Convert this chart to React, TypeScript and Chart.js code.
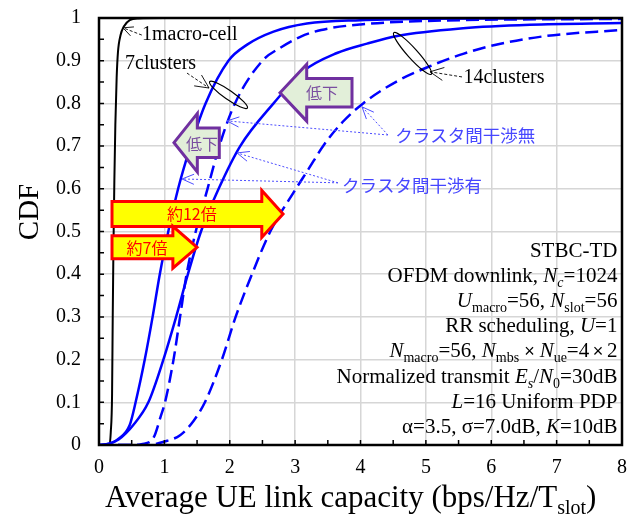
import React, { useEffect, useRef } from 'react';
import { Chart, registerables } from 'chart.js';

Chart.register(...registerables);

// ---- tick values ----
const xTickValues = [0, 1, 2, 3, 4, 5, 6, 7, 8];
const yTickValues = [0, 0.1, 0.2, 0.3, 0.4, 0.5, 0.6, 0.7, 0.8, 0.9, 1];

// ---- 1 macro-cell ----
const macroX = [0, 0.16, 0.18, 0.2, 0.21, 0.22, 0.235, 0.25, 0.27, 0.29, 0.33, 0.38, 0.47, 0.6, 1, 8];
const macroY = [0, 0, 0.03, 0.12, 0.3, 0.45, 0.62, 0.75, 0.86, 0.92, 0.96, 0.98, 0.995, 0.999, 1, 1];

// ---- 7 clusters, with inter-cluster interference (solid) ----
const c7WithX = [0, 0.1, 0.3, 0.47, 0.56, 0.7, 0.82, 0.93, 1.06, 1.21, 1.4, 1.63, 1.98, 2.26, 2.67, 3.18, 4, 5, 8];
const c7WithY = [0, 0.001, 0.015, 0.047, 0.1, 0.2, 0.3, 0.4, 0.5, 0.6, 0.7, 0.8, 0.9, 0.937, 0.968, 0.987, 0.995, 0.998, 1];

// ---- 7 clusters, without interference (dashed) ----
const c7WithoutX = [0, 0.55, 0.65, 0.83, 0.95, 1.01, 1.14, 1.24, 1.34, 1.48, 1.66, 1.84, 2.08, 2.5, 2.77, 3.08, 3.4, 4, 5, 8];
const c7WithoutY = [0, 0, 0.002, 0.016, 0.07, 0.1, 0.2, 0.3, 0.4, 0.5, 0.6, 0.7, 0.8, 0.9, 0.93, 0.956, 0.972, 0.985, 0.993, 0.998];

// ---- 14 clusters, with interference (solid) ----
const c14WithX = [0, 0.15, 0.3, 0.525, 0.755, 0.985, 1.18, 1.36, 1.56, 1.83, 2.16, 2.67, 3.12, 3.64, 4.1, 4.56, 5.57, 6.59, 8];
const c14WithY = [0, 0.003, 0.013, 0.047, 0.1, 0.2, 0.3, 0.4, 0.5, 0.6, 0.7, 0.8, 0.875, 0.918, 0.94, 0.958, 0.976, 0.984, 0.988];

// ---- 14 clusters, without interference (dashed) ----
const c14WithoutX = [0, 0.75, 1.0, 1.24, 1.44, 1.62, 1.88, 2.09, 2.34, 2.62, 2.97, 3.2, 3.45, 3.73, 4.04, 4.56, 5.06, 5.57, 6.09, 6.85, 8];
const c14WithoutY = [0, 0, 0.008, 0.023, 0.055, 0.1, 0.2, 0.3, 0.4, 0.5, 0.59, 0.645, 0.705, 0.757, 0.8, 0.852, 0.887, 0.916, 0.938, 0.958, 0.972];

// ---- text ----
const xTitleMain = 'Average UE link capacity (bps/Hz/T';
const xTitleSub = 'slot';
const yTitle = 'CDF';

const SERIF = "'Liberation Serif', 'Times New Roman', serif";
const SANS_JP = "'Noto Sans CJK JP', 'Noto Sans', sans-serif";
const SANS = "'Liberation Sans', Arial, sans-serif";

type Seg = [string, 'n' | 'i' | 's' | 'is' | 'x'];
const infoLines: Seg[][] = [
  [['STBC-TD', 'n']],
  [['OFDM downlink, ', 'n'], ['N', 'i'], ['c', 'is'], ['=1024', 'n']],
  [['U', 'i'], ['macro', 's'], ['=56, ', 'n'], ['N', 'i'], ['slot', 's'], ['=56', 'n']],
  [['RR scheduling, ', 'n'], ['U', 'i'], ['=1', 'n']],
  [['N', 'i'], ['macro', 's'], ['=56, ', 'n'], ['N', 'i'], ['mbs', 's'], [' \u00d7 ', 'x'], ['N', 'i'], ['ue', 's'], ['=4', 'n'], ['\u2009\u00d7\u2009', 'x'], ['2', 'n']],
  [['Normalized transmit ', 'n'], ['E', 'i'], ['s', 'is'], ['/', 'n'], ['N', 'i'], ['0', 's'], ['=30dB', 'n']],
  [['L', 'i'], ['=16 Uniform PDP', 'n']],
  [['\u03b1=3.5, \u03c3=7.0dB, ', 'n'], ['K', 'i'], ['=10dB', 'n']],
];
const infoBaselines = [0.44, 0.382, 0.323, 0.264, 0.205, 0.146, 0.087, 0.028];
const infoRightX = 7.93;

// ---- annotation geometry (data coordinates) ----
const purpleArrows = [
  { tip: 2.769, base: 3.177, tail: 3.87, cy: 0.825, shaft: 0.0335, head: 0.0665, label: '低下', lx: 3.41, ly: 0.824 },
  { tip: 1.147, base: 1.504, tail: 1.84, cy: 0.708, shaft: 0.0345, head: 0.0685, label: '低下', lx: 1.576, ly: 0.706 },
];
const yellowArrows = [
  { tip: 2.815, base: 2.49, tail: 0.199, cy: 0.541, shaft: 0.029, head: 0.055, label: '約12倍', lx: 1.42, ly: 0.541 },
  { tip: 1.5, base: 1.13, tail: 0.199, cy: 0.463, shaft: 0.027, head: 0.049, label: '約7倍', lx: 0.734, ly: 0.461 },
];
const blueLeaders = [
  { from: [4.42, 0.726], to: [[1.958, 0.759], [4.023, 0.792]], label: 'クラスタ間干渉無', lx: 4.53, ly: 0.726 },
  { from: [3.656, 0.614], to: [[1.27, 0.623], [2.111, 0.684]], label: 'クラスタ間干渉有', lx: 3.717, ly: 0.609 },
];
const blackLabels = [
  { text: '1macro-cell', lx: 0.658, ly: 0.96, from: [0.655, 0.96], to: [0.367, 0.977], head: 11 },
  { text: '7clusters', lx: 0.398, ly: 0.892, from: [1.346, 0.871], to: [1.683, 0.836], head: 15 },
  { text: '14clusters', lx: 5.575, ly: 0.859, from: [5.553, 0.862], to: [5.063, 0.874], head: 15 },
];
const ellipses = [
  { cx: 1.981, cy: 0.82, rx: 23, ry: 4.5, rot: 35 },
  { cx: 4.796, cy: 0.917, rx: 28, ry: 5, rot: 48 },
];

const pts = (xs: number[], ys: number[]) => xs.map((x, i) => ({ x, y: ys[i] }));

function arrowHead(ctx: CanvasRenderingContext2D, fx: number, fy: number, tx: number, ty: number, len: number, ang: number) {
  const a = Math.atan2(ty - fy, tx - fx);
  ctx.beginPath();
  ctx.moveTo(tx - len * Math.cos(a - ang), ty - len * Math.sin(a - ang));
  ctx.lineTo(tx, ty);
  ctx.lineTo(tx - len * Math.cos(a + ang), ty - len * Math.sin(a + ang));
  ctx.stroke();
}

function segFont(st: Seg[1]) {
  switch (st) {
    case 'i': return { font: `italic 21px ${SERIF}`, dy: 0 };
    case 's': return { font: `14px ${SERIF}`, dy: 5 };
    case 'is': return { font: `italic 14px ${SERIF}`, dy: 5 };
    case 'x': return { font: `18px ${SANS}`, dy: 0 };
    default: return { font: `21px ${SERIF}`, dy: 0 };
  }
}

function drawRich(ctx: CanvasRenderingContext2D, segs: Seg[], rightX: number, baseY: number) {
  let total = 0;
  const widths: number[] = [];
  for (const [t, st] of segs) {
    ctx.font = segFont(st).font;
    const w = ctx.measureText(t).width;
    widths.push(w);
    total += w;
  }
  let x = rightX - total;
  ctx.textAlign = 'left';
  ctx.textBaseline = 'alphabetic';
  segs.forEach(([t, st], i) => {
    const f = segFont(st);
    ctx.font = f.font;
    ctx.fillText(t, x, baseY + f.dy);
    x += widths[i];
  });
}

const overlayPlugin = {
  id: 'overlay',
  afterDatasetsDraw(chart: any) {
    const ctx: CanvasRenderingContext2D = chart.ctx;
    const sx = chart.scales.x;
    const sy = chart.scales.y;
    const X = (v: number) => sx.getPixelForValue(v);
    const Y = (v: number) => sy.getPixelForValue(v);
    const { left, right, top, bottom } = chart.chartArea;
    ctx.save();

    // blue dotted leaders
    ctx.strokeStyle = '#4d4dff';
    ctx.lineWidth = 1;
    for (const b of blueLeaders) {
      const fx = X(b.from[0]);
      const fy = Y(b.from[1]);
      for (const t of b.to) {
        const tx = X(t[0]);
        const ty = Y(t[1]);
        ctx.setLineDash([2, 2]);
        ctx.beginPath();
        ctx.moveTo(fx, fy);
        ctx.lineTo(tx, ty);
        ctx.stroke();
        ctx.setLineDash([]);
        arrowHead(ctx, fx, fy, tx, ty, 13, 0.4);
      }
      ctx.fillStyle = '#4646ff';
      ctx.font = `17.5px ${SANS_JP}`;
      ctx.textAlign = 'left';
      ctx.textBaseline = 'middle';
      ctx.fillText(b.label, X(b.lx), Y(b.ly));
    }

    // black labels with leaders
    ctx.strokeStyle = '#000';
    ctx.fillStyle = '#000';
    for (const l of blackLabels) {
      const fx = X(l.from[0]);
      const fy = Y(l.from[1]);
      const tx = X(l.to[0]);
      const ty = Y(l.to[1]);
      ctx.lineWidth = 0.9;
      ctx.setLineDash([3, 2]);
      ctx.beginPath();
      ctx.moveTo(fx, fy);
      ctx.lineTo(tx, ty);
      ctx.stroke();
      ctx.setLineDash([]);
      arrowHead(ctx, fx, fy, tx, ty, l.head, 0.45);
      ctx.font = `20px ${SERIF}`;
      ctx.textAlign = 'left';
      ctx.textBaseline = 'middle';
      ctx.fillText(l.text, X(l.lx), Y(l.ly));
    }

    // ellipses
    ctx.lineWidth = 1.2;
    for (const e of ellipses) {
      ctx.beginPath();
      ctx.ellipse(X(e.cx), Y(e.cy), e.rx, e.ry, (e.rot * Math.PI) / 180, 0, Math.PI * 2);
      ctx.stroke();
    }

    const block = (a: any) => {
      const tipX = X(a.tip);
      const baseX = X(a.base);
      const tailX = X(a.tail);
      const cy = Y(a.cy);
      const sh = Y(a.cy - a.shaft) - cy;
      const hh = Y(a.cy - a.head) - cy;
      ctx.beginPath();
      ctx.moveTo(tipX, cy);
      ctx.lineTo(baseX, cy - hh);
      ctx.lineTo(baseX, cy - sh);
      ctx.lineTo(tailX, cy - sh);
      ctx.lineTo(tailX, cy + sh);
      ctx.lineTo(baseX, cy + sh);
      ctx.lineTo(baseX, cy + hh);
      ctx.closePath();
      ctx.fill();
      ctx.stroke();
    };

    // purple "低下" arrows
    ctx.lineJoin = 'miter';
    for (const a of purpleArrows) {
      ctx.fillStyle = '#e2efd9';
      ctx.strokeStyle = '#7030a0';
      ctx.lineWidth = 3;
      block(a);
      ctx.fillStyle = '#7a4fa0';
      ctx.font = `16px ${SANS_JP}`;
      ctx.textAlign = 'center';
      ctx.textBaseline = 'middle';
      ctx.fillText(a.label, X(a.lx), Y(a.ly));
    }

    // yellow ratio arrows
    for (const a of yellowArrows) {
      ctx.fillStyle = '#ffff00';
      ctx.strokeStyle = '#ff0000';
      ctx.lineWidth = 3;
      block(a);
      ctx.fillStyle = '#ff0000';
      ctx.font = `16px ${SANS_JP}`;
      ctx.textAlign = 'center';
      ctx.textBaseline = 'middle';
      ctx.fillText(a.label, X(a.lx), Y(a.ly));
    }

    // info block
    ctx.fillStyle = '#000';
    infoLines.forEach((segs, i) => drawRich(ctx, segs, X(infoRightX), Y(infoBaselines[i])));

    // frame
    ctx.strokeStyle = '#000';
    ctx.lineWidth = 2.5;
    ctx.strokeRect(left, top, right - left, bottom - top);

    // inward ticks
    ctx.lineWidth = 1.5;
    ctx.beginPath();
    for (let i = 0; i <= 20; i++) {
      const py = Y(i * 0.05);
      ctx.moveTo(left, py);
      ctx.lineTo(left + 5, py);
    }
    for (let i = 0; i <= 16; i++) {
      const px = X(i * 0.5);
      ctx.moveTo(px, bottom);
      ctx.lineTo(px, bottom - 5);
    }
    ctx.stroke();

    ctx.restore();
  },
  afterDraw(chart: any) {
    const ctx: CanvasRenderingContext2D = chart.ctx;
    const sx = chart.scales.x;
    ctx.save();
    ctx.fillStyle = '#000';
    // y title
    ctx.translate(30, 212);
    ctx.rotate(-Math.PI / 2);
    ctx.font = `29px ${SERIF}`;
    ctx.textAlign = 'center';
    ctx.textBaseline = 'middle';
    ctx.fillText(yTitle, 0, 0);
    ctx.setTransform(1, 0, 0, 1, 0, 0);
    // x title
    ctx.font = `31px ${SERIF}`;
    const w1 = ctx.measureText(xTitleMain).width;
    ctx.font = `20px ${SERIF}`;
    const w2 = ctx.measureText(xTitleSub).width;
    ctx.font = `31px ${SERIF}`;
    const w3 = ctx.measureText(')').width;
    const cx = sx.getPixelForValue(3.85);
    let x = cx - (w1 + w2 + w3) / 2;
    const base = 507;
    ctx.textAlign = 'left';
    ctx.textBaseline = 'alphabetic';
    ctx.fillText(xTitleMain, x, base);
    x += w1;
    ctx.font = `20px ${SERIF}`;
    ctx.fillText(xTitleSub, x, base + 7);
    x += w2;
    ctx.font = `31px ${SERIF}`;
    ctx.fillText(')', x, base);
    ctx.restore();
  },
};

export default function App() {
  const ref = useRef<HTMLCanvasElement | null>(null);
  useEffect(() => {
    document.body.style.margin = '0';
    const canvas = ref.current;
    if (!canvas) return;
    const line = (xs: number[], ys: number[], color: string, width: number, dash: number[]) => ({
      data: pts(xs, ys),
      borderColor: color,
      borderWidth: width,
      borderDash: dash,
      pointRadius: 0,
      fill: false,
      cubicInterpolationMode: 'monotone' as const,
    });
    const chart = new Chart(canvas, {
      type: 'line',
      data: {
        datasets: [
          line(c14WithoutX, c14WithoutY, '#0000ff', 2.5, [13, 6]),
          line(c14WithX, c14WithY, '#0000ff', 2.5, []),
          line(c7WithoutX, c7WithoutY, '#0000ff', 2.5, [13, 6]),
          line(c7WithX, c7WithY, '#0000ff', 2.5, []),
          line(macroX, macroY, '#000000', 2, []),
        ],
      },
      options: {
        responsive: false,
        animation: false,
        devicePixelRatio: 1,
        layout: { padding: { top: 18, right: 18, left: 0, bottom: 0 } },
        plugins: { legend: { display: false }, tooltip: { enabled: false } },
        scales: {
          x: {
            type: 'linear',
            min: 0,
            max: 8,
            afterBuildTicks: (s: any) => { s.ticks = xTickValues.map((v) => ({ value: v })); },
            afterFit: (s: any) => {
              s.height = 80;
              s.paddingLeft = 0;
              s.paddingRight = 0;
              s.paddingTop = 0;
              s.paddingBottom = 0;
            },
            ticks: {
              color: '#000',
              font: { family: SERIF, size: 20 },
              padding: 11,
              maxRotation: 0,
              callback: (v: any) => String(v),
            },
            grid: { color: '#d6d6d6', lineWidth: 1.5, drawTicks: false },
            border: { display: false },
          },
          y: {
            type: 'linear',
            min: 0,
            max: 1,
            afterBuildTicks: (s: any) => { s.ticks = yTickValues.map((v) => ({ value: v })); },
            afterFit: (s: any) => {
              s.width = 99;
              s.paddingTop = 0;
              s.paddingBottom = 0;
              s.paddingLeft = 0;
              s.paddingRight = 0;
            },
            ticks: {
              color: '#000',
              font: { family: SERIF, size: 20 },
              padding: 18,
              callback: (v: any) => String(v),
            },
            grid: { color: '#d6d6d6', lineWidth: 1.5, drawTicks: false },
            border: { display: false },
          },
        },
      },
      plugins: [overlayPlugin],
    });
    return () => chart.destroy();
  }, []);
  return (
    <div style={{ width: 640, height: 525 }}>
      <canvas ref={ref} width={640} height={525} style={{ display: 'block' }} />
    </div>
  );
}
